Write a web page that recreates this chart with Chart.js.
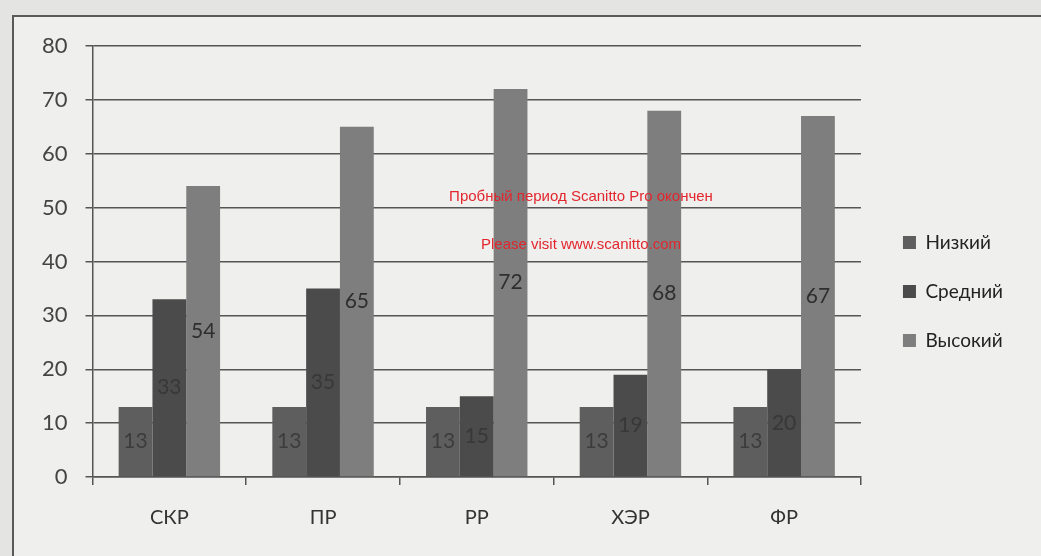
<!DOCTYPE html>
<html>
<head>
<meta charset="utf-8">
<script src="https://cdn.jsdelivr.net/npm/chart.js@4"></script>
<style>
  html, body { margin: 0; padding: 0; background: #e4e4e2; }
  #wrap { position: relative; width: 1041px; height: 556px; overflow: hidden; }
  #frame { position: absolute; left: 12px; top: 15px; width: 1100px; height: 600px;
           border-left: 2px solid #5a5a5a; border-top: 2px solid #5a5a5a; background: #efefed; }
  canvas { position: absolute; left: 0; top: 0; }
</style>
</head>
<body>
<div id="wrap">
  <div id="frame"></div>
  <canvas id="bars" width="1041" height="556"></canvas>
</div>
<script>
  // data
  const categories = ['СКР', 'ПР', 'РР', 'ХЭР', 'ФР'];
  const low = [13, 13, 13, 13, 13];
  const mid = [33, 35, 15, 19, 20];
  const high = [54, 65, 72, 68, 67];
  const yTicks = [0, 10, 20, 30, 40, 50, 60, 70, 80];

  const font = 'Lato, "Open Sans", sans-serif';

  // labels in the middle of each bar
  const barLabels = {
    id: 'barLabels',
    afterDatasetsDraw(chart) {
      const ctx = chart.ctx;
      ctx.save();
      ctx.font = '21px ' + font;
      ctx.textAlign = 'center';
      ctx.textBaseline = 'middle';
      chart.data.datasets.forEach((ds, i) => {
        chart.getDatasetMeta(i).data.forEach((bar, j) => {
          const y = (bar.y + bar.base) / 2;
          ctx.fillStyle = i === 2 ? '#2e2e2e' : 'rgba(50,50,50,0.75)';
          ctx.fillText(ds.data[j], bar.x, y);
        });
      });
      ctx.restore();
    }
  };

  // nudge the legend a bit right and up, like in the scan
  const legendShift = {
    id: 'legendShift',
    afterLayout(chart) {
      const lg = chart.legend;
      lg.left += 12; lg.right += 12;
      lg.top -= 7; lg.bottom -= 7;
    }
  };

  // red scanner watermark
  const watermark = {
    id: 'watermark',
    afterDraw(chart) {
      const ctx = chart.ctx;
      ctx.save();
      ctx.font = '15px "Liberation Sans", Arial, sans-serif';
      ctx.fillStyle = '#e3262e';
      ctx.textAlign = 'center';
      ctx.textBaseline = 'middle';
      ctx.fillText('Пробный период Scanitto Pro окончен', 581, 197);
      ctx.fillText('Please visit www.scanitto.com', 581, 245);
      ctx.restore();
    }
  };

  new Chart(document.getElementById('bars'), {
    type: 'bar',
    data: {
      labels: categories,
      datasets: [
        { label: 'Низкий', data: low, backgroundColor: '#5e5e5e' },
        { label: 'Средний', data: mid, backgroundColor: '#4b4b4b' },
        { label: 'Высокий', data: high, backgroundColor: '#7e7e7e' },
      ],
    },
    options: {
      responsive: false,
      animation: false,
      layout: { padding: { left: 24, right: 40, top: 46, bottom: 5 } },
      datasets: { bar: { barPercentage: 1, categoryPercentage: 0.66 } },
      plugins: {
        legend: {
          display: true,
          position: 'right',
          labels: {
            boxWidth: 13, boxHeight: 13, padding: 30,
            color: '#222', font: { family: font, size: 19 },
          },
        },
        tooltip: { enabled: false },
      },
      scales: {
        x: {
          grid: { offset: true, drawOnChartArea: false, drawTicks: true, tickLength: 8, color: '#555', lineWidth: 1.5 },
          border: { color: '#555', width: 1.5 },
          ticks: { color: '#333', padding: 21, font: { family: font, size: 20 } },
        },
        y: {
          min: 0, max: 80,
          afterBuildTicks(axis) { axis.ticks = yTicks.map(v => ({ value: v })); },
          grid: { color: '#555', lineWidth: 1.5, tickLength: 7 },
          border: { color: '#555', width: 1.5 },
          ticks: { color: '#444', padding: 18, font: { family: font, size: 22 } },
        },
      },
    },
    plugins: [barLabels, legendShift, watermark],
  });
</script>
</body>
</html>
